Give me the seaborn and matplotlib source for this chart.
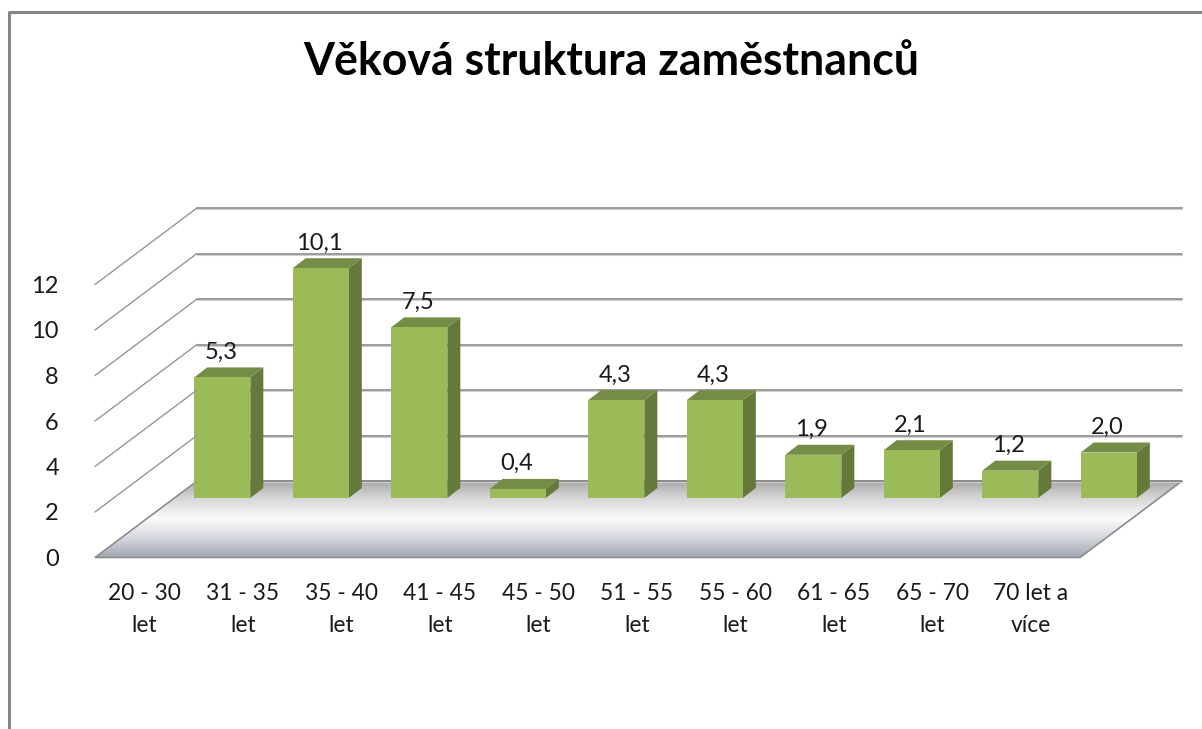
import numpy as np
import matplotlib as mpl
mpl.use("Agg")
import matplotlib.pyplot as plt
import seaborn as sns

from matplotlib.lines import Line2D
from matplotlib.patches import Polygon
from matplotlib.transforms import Affine2D
from matplotlib.colors import LinearSegmentedColormap

title = "Věková struktura zaměstnanců"
categories = ["20 - 30\nlet", "31 - 35\nlet", "35 - 40\nlet", "41 - 45\nlet", "45 - 50\nlet",
              "51 - 55\nlet", "55 - 60\nlet", "61 - 65\nlet", "65 - 70\nlet", "70 let a\nvíce"]
values = [5.3, 10.1, 7.5, 0.4, 4.3, 4.3, 1.9, 2.1, 1.2, 2.0]
yticks = [0, 2, 4, 6, 8, 10, 12]

W, H = 1202, 729
FONT = "Lato"

sns.set_theme(style="white")
plt.rcParams["font.family"] = [FONT, "DejaVu Sans"]

fig = plt.figure(figsize=(W / 100, H / 100), dpi=100, facecolor="white")
# the axes is the front plane of the fake 3D box
ax = fig.add_axes([95 / W, (H - 557.5) / H, 985 / W, 273 / H])
ax.patch.set_visible(False)

sns.barplot(x=categories, y=values, color="#9BBB59", saturation=1, width=0.57, linewidth=0, ax=ax, zorder=5)
ax.set_xlim(-0.5, 9.5)
ax.set_ylim(0, 12)
ax.set_yticks(yticks)
ax.set_xlabel("")
ax.set_ylabel("")
sns.despine(ax=ax, left=True, bottom=True)
ax.tick_params(axis="y", length=0, pad=26, labelsize=17, labelcolor="#1a1a1a")
ax.tick_params(axis="x", length=0, pad=18, labelsize=16.4, labelcolor="#1a1a1a")
for t in ax.get_xticklabels():
    t.set_linespacing(1.7)

# offsets in pixels
back = ax.transData + Affine2D().translate(102, 76.5)
bar_plane = ax.transData + Affine2D().translate(78, 59.5)

# floor with gradient
grad = np.linspace(0, 1, 256).reshape(-1, 1)
cmap = LinearSegmentedColormap.from_list(
    "floor", [(0, "#a6a6a6"), (0.22, "#d4d4d4"), (0.5, "#fbfbfb"), (0.75, "#d5d8de"), (1, "#a3a8b4")])
floor_pts = np.vstack([
    ax.transData.transform([(-0.5, 0), (9.5, 0)]),
    back.transform([(9.5, 0), (-0.5, 0)]),
])
floor = Polygon(floor_pts, closed=True, transform=None, facecolor="none", edgecolor="#8c8c8c",
                linewidth=1.2, zorder=2, clip_on=False)
ax.add_artist(floor)
im = ax.imshow(grad, cmap=cmap, aspect="auto", origin="upper", zorder=1,
               extent=(-0.5, 10.6, 0, 76.5 / 22.75))
im.set_clip_box(fig.bbox)
clip = Polygon(floor_pts, closed=True, transform=None)
im.set_clip_path(clip)
ax.set_xlim(-0.5, 9.5)
ax.set_ylim(0, 12)

# walls
for v in yticks:
    front_pt = ax.transData.transform((-0.5, v))
    back_pt = back.transform((-0.5, v))
    if v > 0:
        fig.add_artist(Line2D([front_pt[0] / W, back_pt[0] / W], [front_pt[1] / H, back_pt[1] / H],
                              color="#969696", lw=1.0, zorder=1))
    ax.plot([-0.5, 9.5], [v, v], transform=back, color="#8a8a8a", lw=1.2, zorder=3, clip_on=False)
    ax.plot([-0.5, 9.5], [v, v], transform=back + Affine2D().translate(0, -1.3),
            color="#cfcfcf", lw=0.8, zorder=2.9, clip_on=False)

# fake depth on each bar
for bar, v in zip(ax.patches, values):
    x0, w = bar.get_x(), bar.get_width()
    bar.set_transform(bar_plane)
    bar.set_clip_on(False)
    p = bar_plane.transform([(x0, 0), (x0 + w, 0), (x0 + w, v), (x0, v)])
    d = np.array([13, 10])
    side = np.array([p[1], p[1] + d, p[2] + d, p[2]])
    top = np.array([p[3], p[2], p[2] + d, p[3] + d])
    ax.add_artist(Polygon(side, closed=True, transform=None, facecolor="#657A3A", edgecolor="none",
                          zorder=4, clip_on=False))
    ax.add_artist(Polygon(top, closed=True, transform=None, facecolor="#748C45", edgecolor="none",
                          zorder=4, clip_on=False))
    ax.annotate(f"{v:.1f}".replace(".", ","), xy=(x0 + w / 2, v), xycoords=bar_plane,
                xytext=(-1, 10.5), textcoords="offset points", ha="center", va="bottom",
                fontsize=17, color="#1a1a1a", zorder=6, annotation_clip=False)

fig.text(611.5 / W, 1 - 62 / H, title, ha="center", va="center", fontsize=32.1, fontweight="bold", color="black")

# outer frame, cut off by the image edge
fig.add_artist(Line2D([9 / W, 9 / W, 1], [0, 1 - 11.5 / H, 1 - 11.5 / H], color="#868686", lw=2.2))

fig.savefig("out.png", dpi=100)
